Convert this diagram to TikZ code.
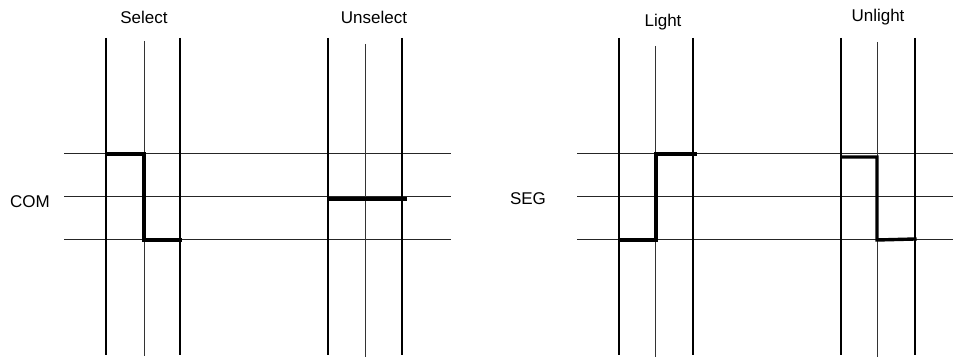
\documentclass[tikz,border=0pt]{standalone}
\usepackage{fontspec}
\setmainfont{Liberation Sans}
\begin{document}
\begin{tikzpicture}[x=1pt,y=-1pt,
  thickv/.style={line width=2.2pt,black},
  thinv/.style={line width=1pt,black!80},
  hline/.style={line width=1pt,black!85},
  wave/.style={line width=3.4pt,black,line join=miter,line cap=rect},
  lbl/.style={font=\fontsize{17}{20}\selectfont,inner sep=0pt}]
\useasboundingbox (0,0) rectangle (953,358);
% horizontal lines
\foreach \y in {154,197,240} {
  \draw[hline] (64,\y) -- (451,\y);
  \draw[hline] (577,\y) -- (953,\y);
}
% verticals: Select
\draw[thickv] (106,38) -- (106,355);
\draw[thinv] (144,41) -- (144,356);
\draw[thickv] (180,38) -- (180,355);
% Unselect
\draw[thickv] (328,38) -- (328,355);
\draw[thinv] (365,44) -- (365,357);
\draw[thickv] (402,38) -- (402,355);
% Light
\draw[thickv] (619,38) -- (619,355);
\draw[thinv] (655,46) -- (655,357);
\draw[thickv] (693,38) -- (693,355);
% Unlight
\draw[thickv] (841,38) -- (841,355);
\draw[thinv] (877,42) -- (877,357);
\draw[thickv] (915,38) -- (915,355);
% waveforms
\draw[wave] (107,154) -- (144,154) -- (144,240) -- (180,240);
\draw[wave] (330,199) -- (405,199);
\draw[wave] (620,240) -- (656,240) -- (656,154) -- (695,154);
\draw[wave] (842,157) -- (877,157) -- (877,240) -- (915,239);
% labels
\node[lbl] (sel) at (144,17) {Select};
\node[lbl] (unsel) at (374,17) {Unselect};
\node[lbl] (light) at (663,22) {Light};
\node[lbl] (unlight) at (878,17) {Unlight};
\node[lbl] (com) at (30,202) {COM};
\node[lbl] (seg) at (528,199) {SEG};
\end{tikzpicture}
\end{document}
